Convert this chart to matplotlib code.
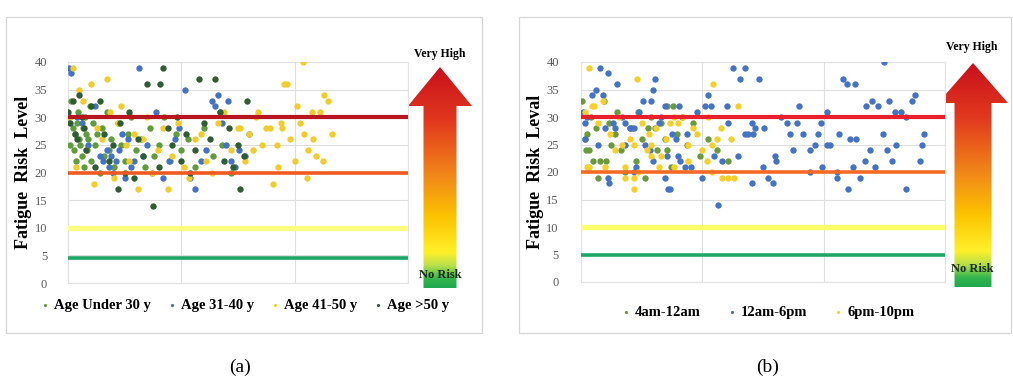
import numpy as np
import matplotlib
matplotlib.use("Agg")
import matplotlib.pyplot as plt
from matplotlib.patches import Polygon, Rectangle
from matplotlib.colors import LinearSegmentedColormap

plt.rcParams['font.family'] = ['Liberation Serif', 'DejaVu Serif']

# ---------------- data (a): fatigue risk by age group ----------------
age_labels = ["Age Under 30 y", "Age 31-40 y", "Age 41-50 y", "Age >50 y"]
age_colors = ["#5f9c3b", "#4472c4", "#f2cb2c", "#2f5c32"]

under30_pts = [(1,30),(2,25),(3,33),(4,28),(5,24),(6,27),(7,22),(8,29),(9,31),(10,26),
               (11,25),(12,23),(13,28),(14,21),(15,30),(16,27),(17,24),(18,26),(19,32),
               (20,22),(22,29),(24,25),(26,27),(28,20),(30,28),(32,23),(34,31),(36,24),
               (38,26),(41,21),(44,29),(47,25),(50,22),(53,27),(56,30),(60,24),(64,26),
               (68,21),(72,28),(76,23),(80,25),(85,30),(90,22),(95,27),(100,24),(106,26),
               (112,21),(120,28),(128,23),(136,25),(144,20)]
age31_pts = [(1,39),(3,38),(8,30),(12,29),(18,25),(24,32),(28,23),(31,22),(34,24),(36,21),
             (38,23),(40,20),(42,22),(45,24),(48,27),(50,19),(53,26),(56,21),(58,22),(63,39),
             (66,23),(70,25),(74,20),(78,31),(84,19),(89,22),(94,26),(98,28),(103,35),(108,19),
             (112,17),(117,22),(122,24),(127,33),(130,32),(132,34),(134,31),(136,29),(139,25),
             (141,33),(144,22),(147,21),(151,24),(156,23),(160,27)]
age41_pts = [(2,30),(4,39),(7,21),(10,35),(13,33),(16,24),(20,36),(23,18),(26,28),(30,26),
             (34,37),(37,31),(41,19),(44,29),(47,32),(51,25),(54,22),(58,27),(62,17),(66,26),
             (70,30),(74,20),(79,24),(84,28),(88,17),(92,23),(97,29),(102,21),(107,19),(112,26),
             (117,27),(122,22),(127,20),(132,29),(138,31),(144,24),(150,28),(152,28),(156,22),
             (160,27),(163,24),(166,30),(168,31),(171,25),(175,28),(178,28),(181,18),(184,25),
             (185,21),(188,29),(189,28),(191,36),(193,36),(196,26),(200,22),(202,32),(205,29),
             (207,40),(208,27),(211,19),(212,24),(215,31),(216,26),(219,23),(222,31),(225,22),
             (226,34),(229,33),(233,27)]
age50_pts = [(0,31),(2,29),(4,33),(6,27),(8,26),(10,34),(12,30),(14,28),(16,24),(20,32),
             (24,21),(28,33),(32,27),(36,22),(40,25),(44,17),(46,29),(50,20),(54,31),(58,19),
             (62,26),(66,23),(70,36),(75,14),(80,21),(81,36),(84,39),(88,28),(92,25),(96,30),
             (100,22),(104,27),(108,20),(112,24),(116,37),(120,29),(125,26),(130,37),(134,31),
             (138,22),(142,28),(146,21),(150,25),(152,17),(155,23),(158,33)]

# ---------------- data (b): fatigue risk by shift time ----------------
shift_labels = ["4am-12am", "12am-6pm", "6pm-10pm"]
shift_colors = ["#6a9a3c", "#4472c4", "#f5d02a"]

morning_pts = [(1,33),(3,26),(4,24),(5,27),(7,24),(8,30),(10,22),(12,28),(14,19),(16,22),
               (19,33),(21,22),(23,29),(25,25),(28,27),(30,31),(33,24),(36,20),(40,28),(42,28),
               (45,22),(47,31),(50,26),(53,19),(55,28),(58,30),(61,28),(63,24),(66,29),(69,26),
               (71,32),(71,24),(74,21),(76,32),(79,27),(83,30),(87,25),(92,29),(98,23),(105,26),
               (112,24),(121,22)]
afternoon_pts = [(2,31),(3,29),(3,26),(5,30),(9,34),(12,35),(14,25),(16,39),(18,34),(20,28),
                 (22,38),(22,19),(23,18),(26,29),(28,28),(30,36),(34,30),(36,29),(36,25),(40,28),
                 (44,28),(44,20),(45,21),(48,31),(51,33),(53,25),(57,24),(58,33),(59,35),(59,22),
                 (61,37),(64,29),(66,30),(69,32),(69,19),(71,23),(72,17),(73,17),(75,27),(78,26),
                 (80,23),(81,32),(82,22),(86,21),(87,27),(91,21),(96,31),(100,19),(102,32),(105,34),
                 (107,32),(110,23),(113,14),(116,22),(120,32),(121,29),(125,39),(129,23),(131,37),
                 (135,39),(135,27),(138,27),(141,29),(141,18),(142,27),(143,28),(147,37),(150,21),
                 (151,28),(154,19),(158,18),(160,23),(161,22),(165,30),(170,29),(172,27),(175,24),
                 (178,29),(180,32),(183,27),(189,24),(189,20),(193,25),(195,27),(198,29),(199,21),
                 (203,31),(203,25),(205,25),(211,19),(211,20),(213,27),(216,37),(219,36),(220,17),
                 (222,26),(224,21),(226,36),(227,26),(230,19),(234,22),(235,32),(238,24),(240,33),
                 (242,21),(245,32),(249,27),(250,40),(252,24),(254,33),(256,22),(259,31),(260,25),
                 (264,31),(268,30),(268,17),(273,33),(275,34),(279,22),(281,25),(283,27)]
evening_pts = [(3,31),(5,21),(7,39),(7,21),(9,32),(11,32),(14,29),(18,33),(20,21),(24,27),
               (28,24),(31,30),(34,25),(36,21),(36,19),(40,26),(44,25),(44,19),(44,17),(46,37),
               (47,20),(50,29),(54,24),(56,27),(58,25),(58,23),(62,28),(64,21),(66,23),(70,26),
               (73,29),(77,30),(77,21),(80,29),(84,30),(88,25),(88,22),(92,28),(96,27),(100,24),
               (104,22),(105,30),(108,25),(108,20),(109,36),(112,26),(115,28),(116,19),(121,19),
               (124,26),(126,19),(129,32)]

# risk threshold lines
levels_a = [30, 20, 10, 4.6]
levels_b = [30, 20, 10, 5]
level_colors_a = ["#b8161e", "#f05a22", "#ffff80", "#1fa565"]
level_colors_b = ["#e8202c", "#f26a24", "#ffff6a", "#1fa565"]
level_widths = [3.0, 2.6, 3.8, 2.6]

yticks = [0, 5, 10, 15, 20, 25, 30, 35, 40]


def style_axes(ax, ylabel, pad):
    ax.set_xlim(0, 300)
    ax.set_ylim(0, 40)
    ax.set_yticks(yticks)
    ax.set_xticks([0, 100, 200, 300])
    ax.set_xticklabels([])
    ax.tick_params(length=0, labelsize=9, labelcolor="#595959", pad=pad)
    ax.grid(True, color="#dedede", lw=0.8)
    ax.set_axisbelow(True)
    for s in ax.spines.values():
        s.set_color("#e2e2e2")
        s.set_linewidth(0.8)
    ax.set_ylabel(ylabel, fontsize=13, fontweight="bold", labelpad=2)


fig = plt.figure(figsize=(10.13, 3.84), dpi=100)

# overlay in pixel coordinates for frames, arrows, captions
ov = fig.add_axes([0, 0, 1, 1])
ov.set_xlim(0, 1013)
ov.set_ylim(384, 0)
ov.axis("off")
ov.set_zorder(-1)

ov.add_patch(Rectangle((6, 17), 476, 316, fill=False, ec="#d6d6d6", lw=0.9))
ov.add_patch(Rectangle((519, 17), 492, 316, fill=False, ec="#d6d6d6", lw=0.9))

grad_cmap = LinearSegmentedColormap.from_list("risk", [
    (0.0, "#c8101c"), (0.25, "#e23a1e"), (0.5, "#f28a18"), (0.68, "#fcc400"),
    (0.84, "#fff02a"), (0.9, "#b8e04a"), (0.96, "#33b54e"), (1.0, "#1fa84e")])


def risk_arrow(cx, tip, head_base, bottom, head_w, shaft_w):
    pts = [(cx, tip), (cx + head_w / 2, head_base), (cx + shaft_w / 2, head_base),
           (cx + shaft_w / 2, bottom), (cx - shaft_w / 2, bottom),
           (cx - shaft_w / 2, head_base), (cx - head_w / 2, head_base)]
    poly = Polygon(pts, closed=True, fc="none", ec="none")
    ov.add_patch(poly)
    grad = np.linspace(0, 1, 256).reshape(-1, 1)
    im = ov.imshow(grad, cmap=grad_cmap, aspect="auto",
                   extent=(cx - head_w / 2, cx + head_w / 2, bottom, tip))
    im.set_clip_path(poly)


risk_arrow(440, 67, 106, 288, 64, 33)
ov.text(440, 54, "Very High", ha="center", va="center", fontsize=8.5, fontweight="bold")
ov.text(440, 275, "No Risk", ha="center", va="center", fontsize=9, fontweight="bold",
        color="#1c2a1c")

risk_arrow(973, 63, 103, 287, 70, 37)
ov.text(972, 47, "Very High", ha="center", va="center", fontsize=8.5, fontweight="bold")
ov.text(972, 269, "No Risk", ha="center", va="center", fontsize=9, fontweight="bold",
        color="#1c2a1c")

ov.text(240, 367, "(a)", ha="center", va="center", fontsize=14)
ov.text(768, 367, "(b)", ha="center", va="center", fontsize=14)
ov.set_xlim(0, 1013)
ov.set_ylim(384, 0)

leg_kw = dict(frameon=False, handlelength=0.6, handletextpad=0.35, markerscale=0.5,
              prop={"weight": "bold", "size": 10.5})

# ---------------- panel (a) ----------------
ax1 = fig.add_axes([68 / 1013, 1 - 283 / 384, 340 / 1013, 221 / 384])
for pts, lab, col in zip([under30_pts, age31_pts, age41_pts, age50_pts], age_labels, age_colors):
    x, y = zip(*pts)
    ax1.scatter(x, y, s=21, color=col, label=lab, lw=0, zorder=3)
for lv, c, w in zip(levels_a, level_colors_a, level_widths):
    ax1.axhline(lv, color=c, lw=w, zorder=4)
style_axes(ax1, "Fatigue  Risk  Level", 15)
h, l = ax1.get_legend_handles_labels()
fig.legend(h, l, loc="center", bbox_to_anchor=(245 / 1013, 1 - 305 / 384), ncol=4,
           columnspacing=1.1, **leg_kw)

# ---------------- panel (b) ----------------
ax2 = fig.add_axes([581 / 1013, 1 - 282 / 384, 364 / 1013, 220 / 384])
for pts, lab, col in zip([morning_pts, afternoon_pts, evening_pts], shift_labels, shift_colors):
    x, y = zip(*pts)
    ax2.scatter(x, y, s=21, color=col, label=lab, lw=0, zorder=3)
for lv, c, w in zip(levels_b, level_colors_b, level_widths):
    ax2.axhline(lv, color=c, lw=w, zorder=4)
style_axes(ax2, "Fatigue  Risk  Leval", 16)
h, l = ax2.get_legend_handles_labels()
fig.legend(h, l, loc="center", bbox_to_anchor=(768 / 1013, 1 - 312 / 384), ncol=3,
           columnspacing=1.8, **leg_kw)

fig.savefig("out.png", dpi=100, facecolor="white")
